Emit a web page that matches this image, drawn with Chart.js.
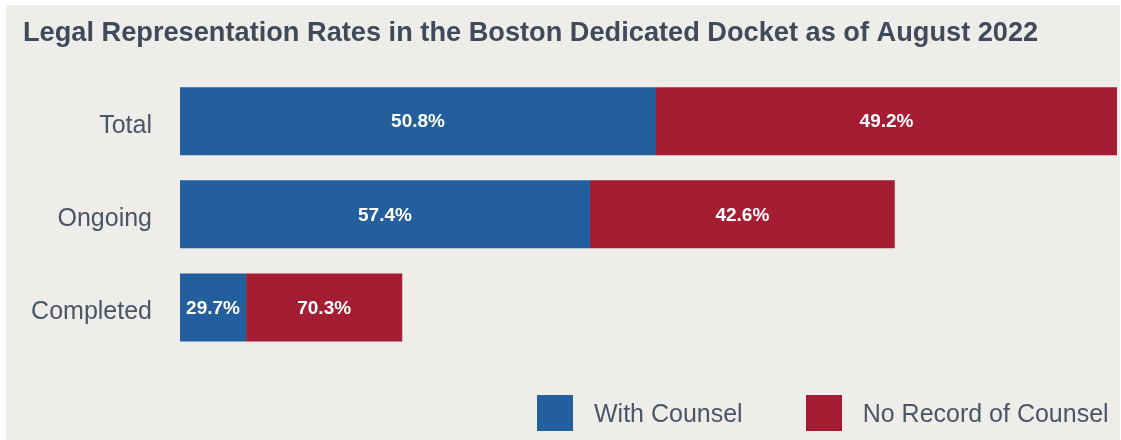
<!DOCTYPE html>
<html>
<head>
<meta charset="utf-8">
<title>Legal Representation Rates</title>
<script src="https://cdn.jsdelivr.net/npm/chart.js@4.4.1/dist/chart.umd.min.js"></script>
<style>
  body { margin: 0; background: #ffffff; }
  .panel {
    position: absolute; left: 6px; top: 5px;
    width: 1114px; height: 435px;
    background: #efedea;
  }
  .chart-box { position: absolute; left: 0; top: 0; width: 1114px; height: 435px; }
  .legend {
    position: absolute; left: 531px; top: 390px;
    display: flex; align-items: center;
    font-family: "Liberation Sans", Arial, sans-serif;
    font-size: 25px; color: #4a5566;
  }
  .legend .item { display: flex; align-items: center; margin-right: 63px; }
  .legend .item:last-child { margin-right: 0; }
  .legend .swatch { width: 36px; height: 36px; margin-right: 21px; }
</style>
</head>
<body>
<div class="panel">
  <div class="chart-box"><canvas id="representationChart"></canvas></div>
  <div class="legend" id="representationLegend"></div>
</div>
<script>
// Case counts per docket group
const categories = ["Total", "Ongoing", "Completed"]
const withCounsel = [317, 273, 44]
const noRecord = [307, 203, 104]
const seriesNames = ["With Counsel", "No Record of Counsel"]
const seriesColors = ["#225f9c", "#a41d32"]

const FONT = "'Liberation Sans', Arial, sans-serif"

// Percent of the row written inside each segment
const barLabels = {
  id: "barLabels",
  afterDatasetsDraw(chart) {
    const { ctx } = chart
    ctx.save()
    ctx.font = "bold 19px " + FONT
    ctx.fillStyle = "#ffffff"
    ctx.textAlign = "center"
    ctx.textBaseline = "middle"
    chart.data.datasets.forEach((ds, i) => {
      chart.getDatasetMeta(i).data.forEach((bar, j) => {
        const rowTotal = withCounsel[j] + noRecord[j]
        const pct = ((ds.data[j] / rowTotal) * 100).toFixed(1) + "%"
        ctx.fillText(pct, (bar.x + bar.base) / 2, bar.y + 1)
      })
    })
    ctx.restore()
  },
}

const chart = new Chart(document.getElementById("representationChart"), {
  type: "bar",
  data: {
    labels: categories,
    datasets: [
      { label: seriesNames[0], data: withCounsel, backgroundColor: seriesColors[0] },
      { label: seriesNames[1], data: noRecord, backgroundColor: seriesColors[1] },
    ],
  },
  options: {
    indexAxis: "y",
    responsive: true,
    maintainAspectRatio: false,
    animation: false,
    categoryPercentage: 1,
    barPercentage: 0.731,
    layout: {
      padding: { left: 17, right: 3, top: 0, bottom: 86 },
    },
    plugins: {
      legend: { display: false },
      tooltip: { enabled: false },
      title: {
        display: true,
        text: "Legal Representation Rates in the Boston Dedicated Docket as of August 2022",
        align: "start",
        color: "#3f4a5b",
        font: { family: FONT, size: 27.2, weight: "bold" },
        padding: { top: 12, bottom: 25 },
      },
    },
    scales: {
      x: {
        stacked: true,
        display: false,
        min: 0,
        max: withCounsel[0] + noRecord[0],
      },
      y: {
        stacked: true,
        grid: { display: false, drawTicks: false },
        border: { display: false },
        ticks: {
          color: "#4a5566",
          font: { family: FONT, size: 25 },
          padding: 28,
          labelOffset: 5,
        },
        afterFit: (scale) => {
          scale.width = 157
        },
      },
    },
  },
  plugins: [barLabels],
})

// Legend built from the chart's datasets
const legendEl = document.getElementById("representationLegend")
chart.data.datasets.forEach((ds) => {
  const item = document.createElement("div")
  item.className = "item"
  const swatch = document.createElement("span")
  swatch.className = "swatch"
  swatch.style.background = ds.backgroundColor
  const text = document.createElement("span")
  text.textContent = ds.label
  item.appendChild(swatch)
  item.appendChild(text)
  legendEl.appendChild(item)
})
</script>
</body>
</html>
